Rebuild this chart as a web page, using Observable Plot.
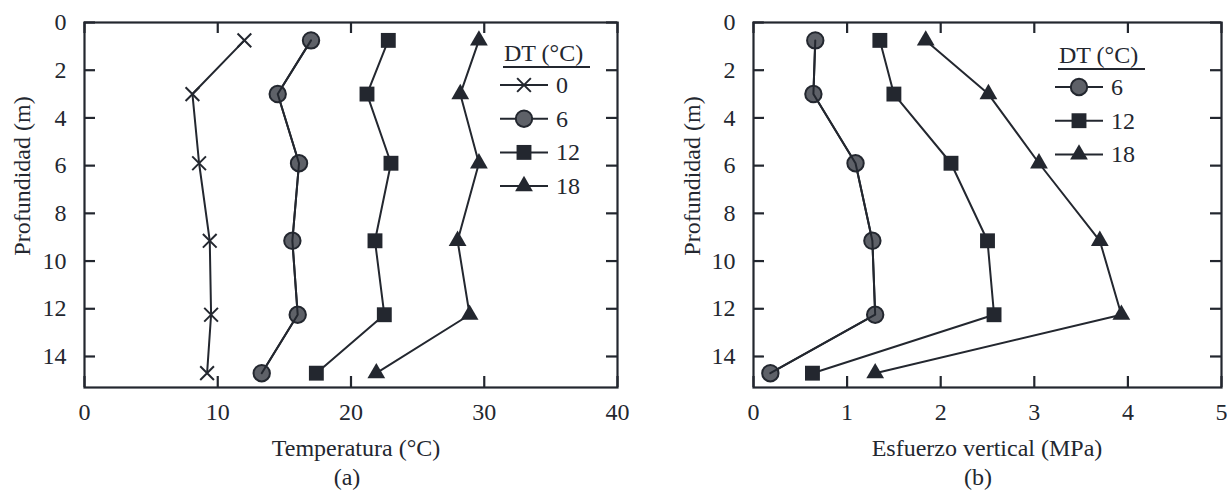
<!DOCTYPE html>
<html><head><meta charset="utf-8">
<script src="https://cdn.jsdelivr.net/npm/d3@7"></script>
<script src="https://cdn.jsdelivr.net/npm/@observablehq/plot@0.6"></script>
<style>
body{margin:0;background:#fff;}
#wrap{position:relative;width:1227px;height:493px;overflow:hidden;font-family:"Liberation Serif","Times New Roman",serif;color:#23272f;background:#fff;}
.abs{position:absolute;}
.title{position:absolute;font-size:24px;line-height:1;white-space:nowrap;transform:translate(-50%,-50%);}
.rot{transform:translate(-50%,-50%) rotate(-90deg);}
svg{overflow:visible;}
</style></head><body><div id="wrap"></div>
<script>
// ---- data ----
const depth = [0.75, 3.0, 5.9, 9.15, 12.25, 14.7];
const temp0 = [12.0, 8.1, 8.6, 9.4, 9.5, 9.2];
const temp6 = [17.0, 14.5, 16.1, 15.6, 16.0, 13.3];
const temp12 = [22.8, 21.2, 23.0, 21.8, 22.5, 17.4];
const temp18 = [29.6, 28.2, 29.6, 28.0, 28.9, 21.9];
const stress6 = [0.66, 0.64, 1.09, 1.27, 1.30, 0.18];
const stress12 = [1.35, 1.50, 2.11, 2.50, 2.57, 0.63];
const stress18 = [1.84, 2.51, 3.05, 3.70, 3.93, 1.30];
const dtLabels = ["0", "6", "12", "18"];
const tempTicks = [0, 10, 20, 30, 40];
const stressTicks = [0, 1, 2, 3, 4, 5];
const depthTicks = [0, 2, 4, 6, 8, 10, 12, 14];
const legendTitle = "DT (°C)";

const ink = "#23272f", gray = "#5e6168";
const sty = {
  "0": {symbol: "times", r: 6.3, fill: "none", stroke: ink, strokeWidth: 2},
  "6": {symbol: "circle", r: 8.2, fill: gray, stroke: ink, strokeWidth: 2},
  "12": {symbol: "square", r: 8.4, fill: ink, stroke: "none", strokeWidth: 0},
  "18": {symbol: "triangle", r: 6.6, fill: ink, stroke: "none", strokeWidth: 0}
};

function rows(key, xs) { return xs.map((x, i) => ({key, x, y: depth[i]})); }

const H = 493, MT = 22, MB = 106;
function panel({series, xDomain, xTicks, width, marginLeft, marginRight}) {
  const fw = width - marginLeft - marginRight, fh = H - MT - MB, T = 11;
  const marks = [];
  // inward ticks on all four sides
  marks.push(
    Plot.ruleX(xTicks, {x: d => d, insetBottom: fh - T, stroke: ink, strokeWidth: 2.2}),
    Plot.ruleX(xTicks, {x: d => d, insetTop: fh - T, stroke: ink, strokeWidth: 2.2}),
    Plot.ruleY(depthTicks, {y: d => d, insetRight: fw - T, stroke: ink, strokeWidth: 2.2}),
    Plot.ruleY(depthTicks, {y: d => d, insetLeft: fw - T, stroke: ink, strokeWidth: 2.2})
  );
  for (const [key, xs] of series) {
    marks.push(Plot.line(rows(key, xs), {x: "x", y: "y", stroke: ink, strokeWidth: 2}));
  }
  for (const [key, xs] of series) {
    const s = sty[key];
    marks.push(Plot.dot(rows(key, xs), {x: "x", y: "y", symbol: () => s.symbol, r: s.r, fill: s.fill, stroke: s.stroke, strokeWidth: s.strokeWidth}));
  }
  // line over circles (as in reference)
  for (const [key, xs] of series) if (key === "6") marks.push(Plot.line(rows(key, xs), {x: "x", y: "y", stroke: ink, strokeWidth: 2}));
  const fmt = d => String(d);
  marks.push(
    Plot.axisX({anchor: "bottom", ticks: xTicks, tickSize: 0, tickPadding: 15, tickFormat: fmt, label: null, fontSize: 24, fill: ink}),
    Plot.axisY({anchor: "left", ticks: depthTicks, tickSize: 0, tickPadding: 18, tickFormat: fmt, label: null, fontSize: 24, fill: ink}),
    Plot.frame({stroke: ink, strokeWidth: 2.2})
  );
  return Plot.plot({
    width, height: H,
    marginLeft, marginRight, marginTop: MT, marginBottom: MB,
    style: {fontFamily: '"Liberation Serif", serif', fontSize: "24px", color: ink, background: "transparent", overflow: "visible"},
    x: {domain: xDomain},
    y: {domain: [0, 15.3], reverse: true},
    symbol: {type: "identity"},
    marks
  });
}

const wrap = d3.select("#wrap");
const left = panel({series: [["0", temp0], ["6", temp6], ["12", temp12], ["18", temp18]], xDomain: [0, 40], xTicks: tempTicks, width: 680, marginLeft: 84, marginRight: 63});
const right = panel({series: [["6", stress6], ["12", stress12], ["18", stress18]], xDomain: [0, 5], xTicks: stressTicks, width: 547, marginLeft: 73, marginRight: 6});
d3.select(left).attr("class", "abs").style("left", "0px").style("top", "0px");
d3.select(right).attr("class", "abs").style("left", "680px").style("top", "0px");
wrap.node().append(left, right);

function title(text, x, y, rot) {
  wrap.append("div").attr("class", "title" + (rot ? " rot" : "")).style("left", x + "px").style("top", y + "px").text(text);
}
title("Temperatura (°C)", 356, 448);
title("(a)", 347, 477);
title("Profundidad (m)", 22, 176, true);
title("Esfuerzo vertical (MPa)", 987, 448);
title("(b)", 978, 477);
title("Profundidad (m)", 692, 176, true);

const symType = {times: d3.symbolTimes, circle: d3.symbolCircle, square: d3.symbolSquare, triangle: d3.symbolTriangle};
function legend(x0, y0, keys) {
  const g = wrap.append("svg").attr("class", "abs").style("left", x0 + "px").style("top", y0 + "px").attr("width", 130).attr("height", 160);
  g.append("text").attr("x", 4).attr("y", 18).attr("dominant-baseline", "central").attr("font-size", 24).attr("fill", ink).attr("font-family", '"Liberation Serif", serif').text(legendTitle);
  g.append("line").attr("x1", 3).attr("x2", 90).attr("y1", 32).attr("y2", 32).attr("stroke", ink).attr("stroke-width", 2);
  keys.forEach((k, i) => {
    const cy = 50 + i * 33.7;
    const s = sty[k];
    g.append("line").attr("x1", 0).attr("x2", 48).attr("y1", cy).attr("y2", cy).attr("stroke", ink).attr("stroke-width", 2);
    g.append("path").attr("transform", `translate(24,${cy})`).attr("d", d3.symbol(symType[s.symbol], Math.PI * s.r * s.r)()).attr("fill", s.fill).attr("stroke", s.stroke).attr("stroke-width", s.strokeWidth);
    g.append("text").attr("x", 56).attr("y", cy).attr("dominant-baseline", "central").attr("font-size", 24).attr("fill", ink).attr("font-family", '"Liberation Serif", serif').text(k);
  });
}
legend(500, 35, dtLabels);
legend(1055, 37, dtLabels.slice(1));
</script></body></html>
